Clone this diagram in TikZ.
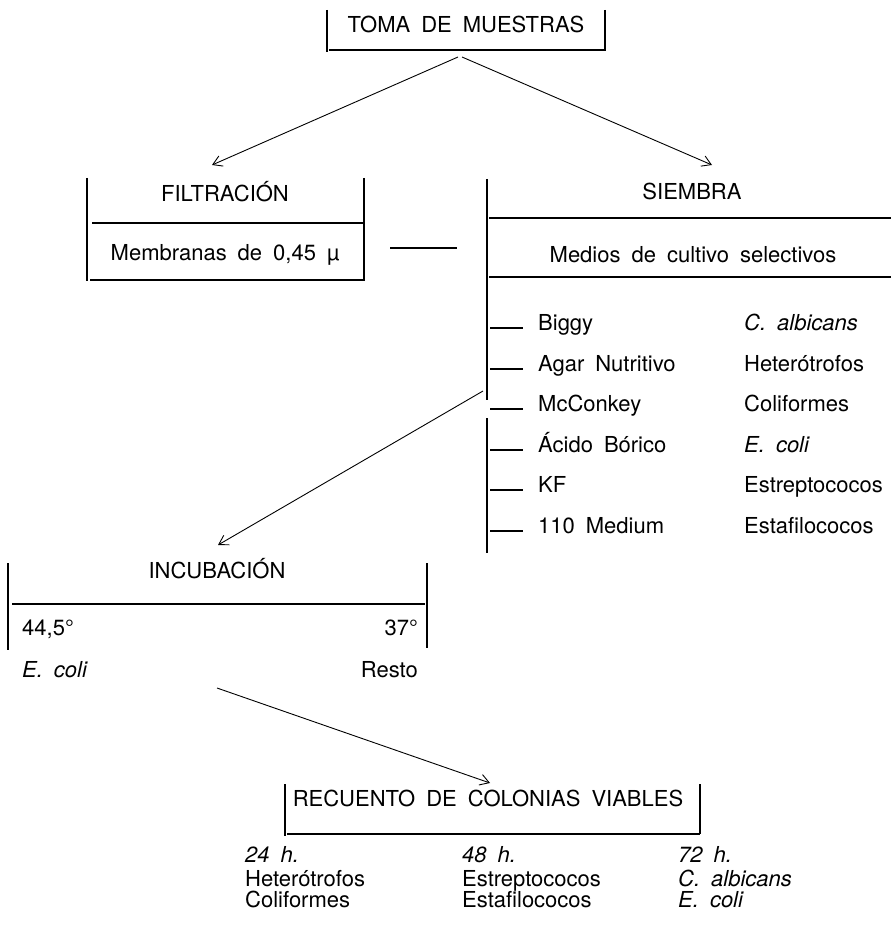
\documentclass[tikz,border=0pt]{standalone}
\usepackage{fontspec}
\setmainfont{TeX Gyre Heros}[WordSpace=1.8]
\usetikzlibrary{arrows.meta}
\begin{document}
\begin{tikzpicture}[x=1pt,y=-1pt,
  bar/.style={line width=2.3pt},
  thin bar/.style={line width=1.5pt},
  arr/.style={line width=0.9pt,-{Straight Barb[length=9pt,width=11pt,line width=0.9pt]}},
  txt/.style={inner sep=0pt,font=\fontsize{22}{24}\selectfont},
  itx/.style={inner sep=0pt,font=\fontsize{22}{24}\selectfont\itshape}]
\useasboundingbox (0,0) rectangle (891,928);

% ---------- TOMA DE MUESTRAS
\node[txt,anchor=base] (toma) at (466,33) {TOMA DE MUESTRAS};
\draw[bar] (327,10) -- (327,52);
\draw[bar] (605,10) -- (605,51);
\draw[bar] (329,50) -- (605,50);
\coordinate (tomaL) at (458,57);
\coordinate (tomaR) at (462,57);

% ---------- FILTRACION
\node[txt,anchor=base] (filt) at (225,201) {FILTRACIÓN};
\node[txt,anchor=base] (memb) at (225,260) {Membranas de 0,45 µ};
\draw[bar] (87,178) -- (87,281);
\draw[bar] (364,178) -- (364,281);
\draw[bar] (92,223) -- (364,223);
\draw[bar] (90,280) -- (364,280);
\coordinate (filtTop) at (212,165);
\coordinate (linkA) at (390,248);
\coordinate (linkB) at (457,248);
\draw[thin bar] (linkA) -- (linkB);

% ---------- SIEMBRA
\node[txt,anchor=base] (siem) at (692,200) {SIEMBRA};
\node[txt,anchor=base] (medios) at (693,262) {Medios de cultivo selectivos};
\draw[bar] (487,179) -- (487,400);
\draw[bar] (487,418) -- (487,553);
\draw[bar] (489,218) -- (891,218);
\draw[bar] (489,277) -- (891,277);
\coordinate (siemTop) at (712,165);

\foreach \n/\y/\a/\b/\st in {
  m1/330/Biggy/C. albicans/itx,
  m2/371/Agar Nutritivo/Heterótrofos/txt,
  m3/411/McConkey/Coliformes/txt,
  m4/452/Ácido Bórico/E. coli/itx,
  m5/492/KF/Estreptococos/txt,
  m6/533/110 Medium/Estafilococos/txt}{
  \node[txt,anchor=base west] (\n) at (538,\y) {\a};
  \node[\st,anchor=base west] (\n r) at (744,\y) {\b};
  \draw[thin bar] (490,\y-2) -- (523,\y-2);
}
\coordinate (siemOut) at (483,391);

% ---------- INCUBACION
\node[txt,anchor=base] (incu) at (217,578) {INCUBACIÓN};
\draw[bar] (8,563) -- (8,650);
\draw[bar] (427,563) -- (427,648);
\draw[bar] (12,604) -- (425,604);
\node[txt,anchor=base west] (t44) at (22,635) {44,5°};
\node[txt,anchor=base east] (t37) at (418,635) {37°};
\node[itx,anchor=base west] (ecoli) at (22,677) {E. coli};
\node[txt,anchor=base east] (resto) at (418,677) {Resto};
\coordinate (incuIn) at (218,545);
\coordinate (incuOut) at (217,688);

% ---------- RECUENTO
\node[txt,anchor=base] (recu) at (488,806) {RECUENTO DE COLONIAS VIABLES};
\draw[bar] (285,784) -- (285,836);
\draw[bar] (700,784) -- (700,834);
\draw[bar] (287,834) -- (700,834);
\coordinate (recuIn) at (490,783);

\node[itx,anchor=base west] (h24) at (245,862) {24 h.};
\node[txt,anchor=base west] (c24a) at (245,886) {Heterótrofos};
\node[txt,anchor=base west] (c24b) at (245,907) {Coliformes};
\node[itx,anchor=base west] (h48) at (462,862) {48 h.};
\node[txt,anchor=base west] (c48a) at (462,886) {Estreptococos};
\node[txt,anchor=base west] (c48b) at (462,907) {Estafilococos};
\node[itx,anchor=base west] (h72) at (678,862) {72 h.};
\node[itx,anchor=base west] (c72a) at (678,886) {C. albicans};
\node[itx,anchor=base west] (c72b) at (678,907) {E. coli};

% ---------- arrows
\draw[arr] (tomaL) -- (filtTop);
\draw[arr] (tomaR) -- (siemTop);
\draw[arr] (siemOut) -- (incuIn);
\draw[arr] (incuOut) -- (recuIn);
\end{tikzpicture}
\end{document}
